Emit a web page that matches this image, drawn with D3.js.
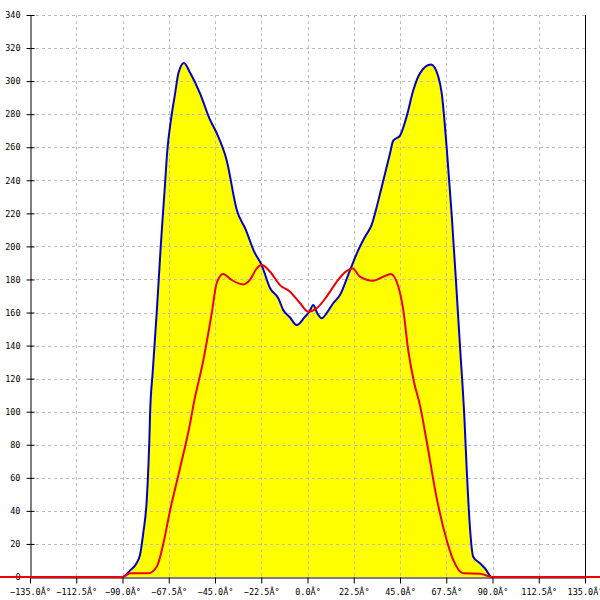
<!DOCTYPE html>
<html><head><meta charset="utf-8">
<script src="https://cdn.jsdelivr.net/npm/d3@7"></script>
<style>body{margin:0;background:#fff}svg{display:block}</style>
</head><body>
<script>
// Blue series (filled yellow): [angle deg, value]
const blueAngles = [-180,-90,-86.3,-83.1,-81.5,-79.9,-78.2,-77.4,-76.9,-76.6,-75.3,-73.3,-71.4,-69.3,-68.2,-66.5,-64.4,-62.8,-60.1,-57.1,-52.3,-47.4,-44.2,-39.3,-34.4,-30.0,-26.0,-22.3,-18.2,-14.2,-11.8,-8.5,-5.3,-1.2,0.9,2.8,4.6,6.9,9.5,12.5,15.8,20.7,24.7,28.0,31.2,33.7,36.1,38.5,40.1,41.7,45.0,48.2,51.5,54.7,60.1,63.6,65.3,67.7,70.1,72.2,74.2,76.3,77.4,79.0,80.6,83.9,86.3,89.6,180];
const blueValues = [0,0,4,8.5,13.3,26.6,46.6,66.8,84,98,124,161,200,238,258,276,292.6,304.7,311,305,292.6,276.5,268.6,252,222,210,197,188.7,174.7,168.6,161.5,157,152.4,157.5,160.5,164.5,160,156.5,160,165.6,170.6,185.7,197.8,205.9,213,224,236,248,256,264,267,278.5,294.6,304.7,310,302.8,292.6,260,220,179.7,139.3,97,66.7,30.4,12.3,8.3,5.3,0,0];
// Red series
const redAngles = [-180,-90,-86.3,-77.4,-73.3,-70.1,-66.9,-62.0,-57.1,-55.5,-50.7,-46.6,-44.2,-41.0,-36.9,-31.2,-28.0,-24.7,-22.3,-18.2,-13.4,-8.5,-3.6,0.4,4.5,9.3,14.2,18.2,22.0,25.5,32.0,36.9,40.5,44.2,46.6,49.0,51.8,54.7,58.0,62.8,67.7,70.9,75.8,84,88,90,180];
const redValues = [0,0,2.2,2.2,6.3,20.4,40,66,93,104,131,159.5,177.7,183.3,179.7,177,179.7,186.7,188.7,184.7,176.6,172.6,165.6,160.5,162.6,169.6,178.6,184.3,186.7,181.7,179.2,181.7,183.3,175.6,161.5,137.3,118,104,82,48,22.4,10.3,2.2,2,0.5,0,0];
const xTicks = [-135,-112.5,-90,-67.5,-45,-22.5,0,22.5,45,67.5,90,112.5,135];
const yTicks = [0,20,40,60,80,100,120,140,160,180,200,220,240,260,280,300,320,340];

const W = 600, H = 600;
const L = 30, R = 585, T = 15, B = 577;
const svg = d3.select("body").append("svg").attr("width", W).attr("height", H);
const x = d3.scaleLinear().domain([-135, 135]).range([L, R]);
const y = d3.scaleLinear().domain([0, 340]).range([B, T]);

const blue = blueAngles.map((a, i) => [a, blueValues[i]]);
const red = redAngles.map((a, i) => [a, redValues[i]]);

const curve = d3.curveMonotoneX;
svg.append("path").datum(blue)
  .attr("fill", "#ffff00")
  .attr("d", d3.area().x(d => x(d[0])).y0(y(0)).y1(d => y(d[1])).curve(curve));

// grid
const grid = svg.append("g").attr("stroke", "#bdbdbd").attr("stroke-dasharray", "3,3").attr("stroke-width", 1);
grid.selectAll("line.h").data(yTicks.filter(v => v > 0)).join("line")
  .attr("x1", L).attr("x2", R).attr("y1", d => Math.round(y(d)) + 0.5).attr("y2", d => Math.round(y(d)) + 0.5);
grid.selectAll("line.v").data(xTicks.filter(v => v > -135 && v < 135)).join("line")
  .attr("y1", T).attr("y2", B).attr("x1", d => Math.round(x(d)) + 0.5).attr("x2", d => Math.round(x(d)) + 0.5);

// axes
const font = "'DejaVu Sans Mono', monospace";
const yAxis = d3.axisLeft(y).tickValues(yTicks).tickSize(4).tickPadding(6).tickSizeOuter(0);
const gy = svg.append("g").attr("transform", `translate(${L + 0.5},0)`).call(yAxis);
gy.selectAll(".tick line").attr("x2", 4).attr("x1", -4);
gy.select(".domain").attr("stroke", "#000");
gy.selectAll("text").attr("font-family", font).attr("font-size", 8.5).attr("fill", "#000").attr("x", -10);

const xAxis = d3.axisBottom(x).tickValues(xTicks).tickSize(6).tickPadding(5).tickSizeOuter(0)
  .tickFormat(d => d3.format(".1f")(d) + "\u00C2\u00B0");
const gx = svg.append("g").attr("transform", `translate(0,${B + 0.5})`).call(xAxis);
gx.select(".domain").attr("stroke", "#000");
gx.selectAll("text").attr("font-family", font).attr("font-size", 8.5).attr("fill", "#000");

// right border
svg.append("line").attr("x1", R + 0.5).attr("x2", R + 0.5).attr("y1", T).attr("y2", B + 6).attr("stroke", "#000");

// lines
svg.append("path").datum(blue).attr("fill", "none").attr("stroke", "#0000cc").attr("stroke-width", 2)
  .attr("d", d3.line().x(d => x(d[0])).y(d => y(d[1])).curve(curve));
svg.append("path").datum(red).attr("fill", "none").attr("stroke", "#ee0000").attr("stroke-width", 2)
  .attr("d", d3.line().x(d => x(d[0])).y(d => y(d[1])).curve(curve));
</script>
</body></html>
